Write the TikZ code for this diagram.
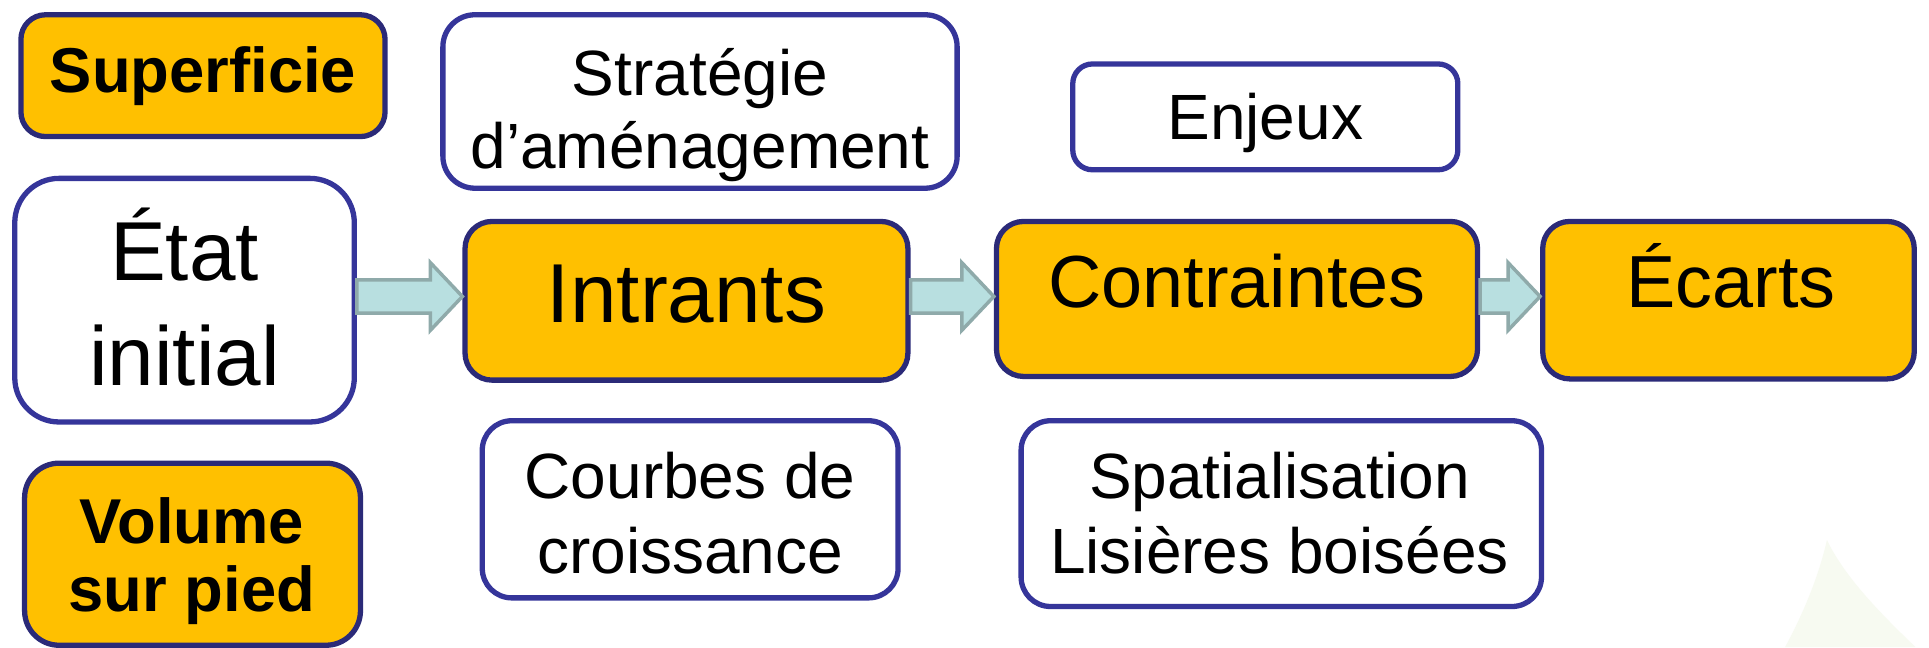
\documentclass[tikz,border=0pt]{standalone}
\usepackage{fontspec}
\setmainfont{Liberation Sans}
\usetikzlibrary{calc}
\definecolor{orangebox}{HTML}{FFC000}
\definecolor{navyline}{HTML}{2B2A78}
\definecolor{blueline}{HTML}{35359A}
\definecolor{arrowfill}{HTML}{B8DFE0}
\definecolor{arrowline}{HTML}{8FAAAA}
\definecolor{treegreen}{HTML}{F7FAF1}
\tikzset{
  orangestyle/.style={draw=navyline, fill=orangebox, line width=4.3pt, inner sep=0pt},
  whitestyle/.style={draw=blueline, fill=white, line width=4.3pt, inner sep=0pt},
  txtsmall/.style={anchor=base, inner sep=0pt, font=\fontsize{52}{60}\selectfont},
  txtbold/.style={anchor=base, inner sep=0pt, font=\fontsize{51.5}{60}\selectfont\bfseries},
  txtmid/.style={anchor=base, inner sep=0pt, font=\fontsize{60}{70}\selectfont},
  txtbig/.style={anchor=base, inner sep=0pt, font=\fontsize{68}{80}\selectfont},
  blockarrow/.style={draw=arrowline, fill=arrowfill, line width=2.8pt, line join=miter},
}
\begin{document}
\begin{tikzpicture}[x=1pt,y=-1pt]
\useasboundingbox (0,0) rectangle (1568,526);
\fill[white] (0,0) rectangle (1568,526);
% faint watermark tree
\fill[treegreen] (1485,439) .. controls (1500,470) and (1530,500) .. (1557,526) -- (1451,526) .. controls (1465,500) and (1478,470) .. cycle;

% boxes
\node[orangestyle, rounded corners=20pt, minimum width=296pt, minimum height=99pt] (sup) at (165,61.5) {};
\node[whitestyle, rounded corners=36pt, minimum width=276pt, minimum height=198pt] (etat) at (150,244) {};
\node[orangestyle, rounded corners=28pt, minimum width=273pt, minimum height=148pt] (vol) at (156.5,450.5) {};
\node[whitestyle, rounded corners=26pt, minimum width=418pt, minimum height=141pt] (strat) at (569,82.5) {};
\node[orangestyle, rounded corners=22pt, minimum width=360pt, minimum height=129pt] (intr) at (558,244.5) {};
\node[whitestyle, rounded corners=24pt, minimum width=338pt, minimum height=144pt] (courb) at (561,414) {};
\node[whitestyle, rounded corners=16pt, minimum width=313pt, minimum height=86pt] (enj) at (1028.5,95) {};
\node[orangestyle, rounded corners=22pt, minimum width=391pt, minimum height=126pt] (contr) at (1005.5,243) {};
\node[whitestyle, rounded corners=24pt, minimum width=423pt, minimum height=151pt] (spat) at (1041.5,417.5) {};
\node[orangestyle, rounded corners=22pt, minimum width=302pt, minimum height=128pt] (ecarts) at (1405,244) {};

% block arrows
\foreach \a/\b in {etat/intr, intr/contr, contr/ecarts}{
  \draw[blockarrow] let \p1=(\a.east), \p2=(\b.west) in
    (\x1,241) -- ++(0,-13.5) -- (\x2-26pt,227.5) -- (\x2-26pt,213.5) -- (\x2,241)
    -- (\x2-26pt,268.5) -- (\x2-26pt,254.5) -- (\x1,254.5) -- cycle;
}

% texts
\node[txtbold] (tsup) at (165,75) {Superficie};
\node[txtbig] (tetat1) at (150,228) {État};
\node[txtbig] (tetat2) at (150,313) {initial};
\node[txtbold] (tvol1) at (156,442) {Volume};
\node[txtbold] (tvol2) at (156,497) {sur pied};
\node[txtsmall] (tstrat1) at (569,78) {Stratégie};
\node[txtsmall] (tstrat2) at (569,137) {d’aménagement};
\node[txtbig] (tintr) at (558,262) {Intrants};
\node[txtsmall] (tcourb1) at (561,405) {Courbes de};
\node[txtsmall] (tcourb2) at (561,466) {croissance};
\node[txtsmall] (tenj) at (1028.5,113) {Enjeux};
\node[txtmid] (tcontr) at (1005.5,250) {Contraintes};
\node[txtsmall] (tspat1) at (1040,405) {Spatialisation};
\node[txtsmall] (tspat2) at (1040,466) {Lisières boisées};
\node[txtmid] (tecarts) at (1407,250) {Écarts};
\end{tikzpicture}
\end{document}
